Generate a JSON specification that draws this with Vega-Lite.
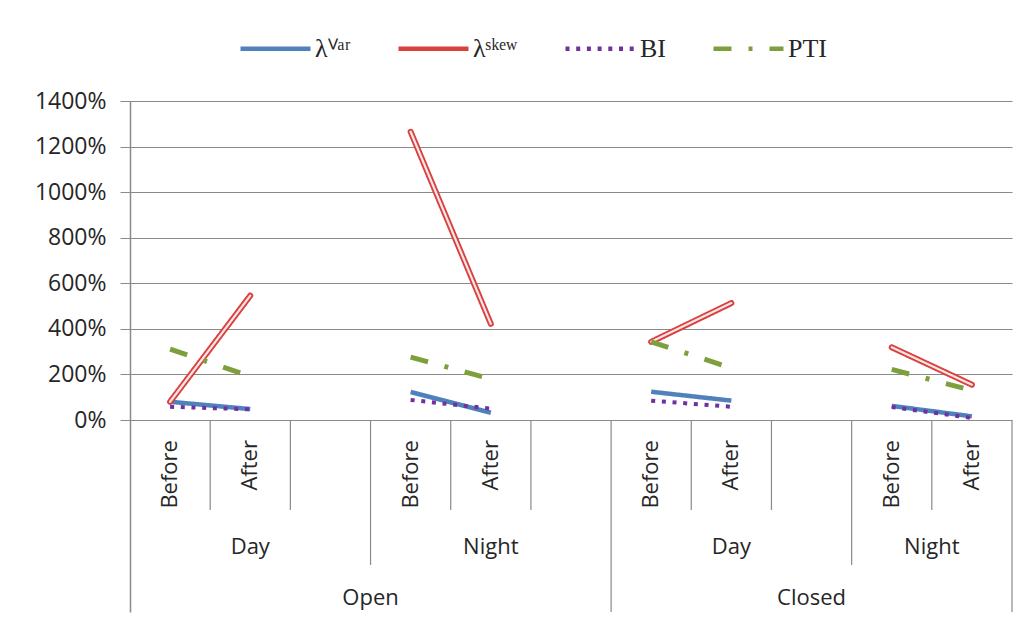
{
  "$schema": "https://vega.github.io/schema/vega-lite/v6.json",
  "width": 882,
  "height": 511,
  "autosize": "none",
  "padding": {"left": 130, "top": 101, "right": 19, "bottom": 10},
  "background": "white",
  "config": {
    "view": {"stroke": null},
    "font": "Open Sans",
    "text": {"font": "Open Sans", "fontSize": 22, "fill": "#262626"}
  },
  "datasets": {
    "main": [
      {"series": "λVar", "group": "Open Day", "phase": "Before", "cat": "Open Day Before", "value": 80},
      {"series": "λVar", "group": "Open Day", "phase": "After", "cat": "Open Day After", "value": 48},
      {"series": "λVar", "group": "Open Night", "phase": "Before", "cat": "Open Night Before", "value": 123},
      {"series": "λVar", "group": "Open Night", "phase": "After", "cat": "Open Night After", "value": 32},
      {"series": "λVar", "group": "Closed Day", "phase": "Before", "cat": "Closed Day Before", "value": 124},
      {"series": "λVar", "group": "Closed Day", "phase": "After", "cat": "Closed Day After", "value": 85},
      {"series": "λVar", "group": "Closed Night", "phase": "Before", "cat": "Closed Night Before", "value": 62},
      {"series": "λVar", "group": "Closed Night", "phase": "After", "cat": "Closed Night After", "value": 16},
      {"series": "λskew", "group": "Open Day", "phase": "Before", "cat": "Open Day Before", "value": 80},
      {"series": "λskew", "group": "Open Day", "phase": "After", "cat": "Open Day After", "value": 546},
      {"series": "λskew", "group": "Open Night", "phase": "Before", "cat": "Open Night Before", "value": 1265},
      {"series": "λskew", "group": "Open Night", "phase": "After", "cat": "Open Night After", "value": 422},
      {"series": "λskew", "group": "Closed Day", "phase": "Before", "cat": "Closed Day Before", "value": 343},
      {"series": "λskew", "group": "Closed Day", "phase": "After", "cat": "Closed Day After", "value": 513},
      {"series": "λskew", "group": "Closed Night", "phase": "Before", "cat": "Closed Night Before", "value": 319},
      {"series": "λskew", "group": "Closed Night", "phase": "After", "cat": "Closed Night After", "value": 155},
      {"series": "BI", "group": "Open Day", "phase": "Before", "cat": "Open Day Before", "value": 58},
      {"series": "BI", "group": "Open Day", "phase": "After", "cat": "Open Day After", "value": 47},
      {"series": "BI", "group": "Open Night", "phase": "Before", "cat": "Open Night Before", "value": 88},
      {"series": "BI", "group": "Open Night", "phase": "After", "cat": "Open Night After", "value": 50},
      {"series": "BI", "group": "Closed Day", "phase": "Before", "cat": "Closed Day Before", "value": 85},
      {"series": "BI", "group": "Closed Day", "phase": "After", "cat": "Closed Day After", "value": 58},
      {"series": "BI", "group": "Closed Night", "phase": "Before", "cat": "Closed Night Before", "value": 57},
      {"series": "BI", "group": "Closed Night", "phase": "After", "cat": "Closed Night After", "value": 9},
      {"series": "PTI", "group": "Open Day", "phase": "Before", "cat": "Open Day Before", "value": 311},
      {"series": "PTI", "group": "Open Day", "phase": "After", "cat": "Open Day After", "value": 192},
      {"series": "PTI", "group": "Open Night", "phase": "Before", "cat": "Open Night Before", "value": 276},
      {"series": "PTI", "group": "Open Night", "phase": "After", "cat": "Open Night After", "value": 180},
      {"series": "PTI", "group": "Closed Day", "phase": "Before", "cat": "Closed Day Before", "value": 343},
      {"series": "PTI", "group": "Closed Day", "phase": "After", "cat": "Closed Day After", "value": 228},
      {"series": "PTI", "group": "Closed Night", "phase": "Before", "cat": "Closed Night Before", "value": 222},
      {"series": "PTI", "group": "Closed Night", "phase": "After", "cat": "Closed Night After", "value": 130}
    ],
    "boundaries": [
      {"at": "Open Day After", "row": "phase"},
      {"at": "Open Day -", "row": "phase"},
      {"at": "Open Night Before", "row": "time"},
      {"at": "Open Night After", "row": "phase"},
      {"at": "Open Night -", "row": "phase"},
      {"at": "Closed Day Before", "row": "door"},
      {"at": "Closed Day After", "row": "phase"},
      {"at": "Closed Day -", "row": "phase"},
      {"at": "Closed Night Before", "row": "time"},
      {"at": "Closed Night After", "row": "phase"},
      {"at": "Closed Night After", "row": "end"}
    ],
    "groupLabels": [
      {"text": "Day", "row": "time", "at": "Open Day After", "edge": false},
      {"text": "Night", "row": "time", "at": "Open Night After", "edge": false},
      {"text": "Day", "row": "time", "at": "Closed Day After", "edge": false},
      {"text": "Night", "row": "time", "at": "Closed Night After", "edge": true},
      {"text": "Open", "row": "door", "at": "Open Night Before", "edge": true},
      {"text": "Closed", "row": "door", "at": "Closed Day -", "edge": false}
    ]
  },
  "encoding": {
    "x": {
      "field": "cat",
      "type": "nominal",
      "axis": null,
      "scale": {
        "type": "band",
        "paddingInner": 0,
        "paddingOuter": 0,
        "domain": ["Open Day Before", "Open Day After", "Open Day -", "Open Night Before", "Open Night After", "Open Night -", "Closed Day Before", "Closed Day After", "Closed Day -", "Closed Night Before", "Closed Night After"]
      }
    }
  },
  "layer": [
    {
      "data": {"name": "main"},
      "transform": [{"filter": "datum.series == 'λVar'"}],
      "mark": {"type": "text", "angle": 270, "align": "right", "baseline": "middle", "fontSize": 22},
      "encoding": {
        "y": {"datum": -88, "type": "quantitative"},
        "text": {"field": "phase"}
      }
    },
    {
      "data": {"name": "main"},
      "transform": [{"filter": "datum.series == 'λVar'"}],
      "mark": {"type": "line", "strokeWidth": 4.5, "strokeCap": "butt"},
      "encoding": {
        "y": {
          "field": "value",
          "type": "quantitative",
          "scale": {"domain": [-842.6, 1400], "nice": false, "zero": false},
          "axis": {
            "values": [0, 200, 400, 600, 800, 1000, 1200, 1400],
            "labelExpr": "datum.value + '%'",
            "title": null,
            "grid": true,
            "gridColor": "#8a8a8a",
            "gridWidth": 1,
            "domainColor": "#8a8a8a",
            "domainWidth": 1.5,
            "tickColor": "#8a8a8a",
            "tickSize": 10,
            "labelPadding": 14,
            "labelFont": "Open Sans",
            "labelFontSize": 23,
            "labelColor": "#262626"
          }
        },
        "detail": {"field": "group"},
        "color": {
          "field": "series",
          "type": "nominal",
          "scale": {"domain": ["λVar", "λskew", "BI", "PTI"], "range": ["#4f81bd", "#d9413f", "#7030a0", "#7ea03c"]},
          "legend": {
            "title": null,
            "orient": "none",
            "direction": "horizontal",
            "legendX": 108,
            "legendY": -90,
            "symbolType": "stroke",
            "symbolSize": 4900,
            "symbolStrokeWidth": 4.5,
            "labelFont": "Liberation Serif",
            "labelFontSize": 26,
            "labelColor": "#262626",
            "labelOffset": 2,
            "columnPadding": 38,
            "labelExpr": "datum.label == 'λVar' ? 'λⱽᵃʳ' : datum.label == 'λskew' ? 'λˢᵏᵉʷ' : datum.label"
          }
        },
        "strokeDash": {
          "field": "series",
          "type": "nominal",
          "scale": {"domain": ["λVar", "λskew", "BI", "PTI"], "range": [[1, 0], [1, 0], [4, 6.7], [18, 17, 4, 17]]}
        }
      }
    },
    {
      "data": {"name": "main"},
      "transform": [{"filter": "datum.series == 'λskew'"}],
      "mark": {"type": "line", "strokeWidth": 6, "strokeCap": "round"},
      "encoding": {
        "y": {"field": "value", "type": "quantitative"},
        "detail": {"field": "group"},
        "color": {"field": "series", "type": "nominal"},
        "strokeDash": {"field": "series", "type": "nominal"}
      }
    },
    {
      "data": {"name": "main"},
      "transform": [{"filter": "datum.series == 'λskew'"}],
      "mark": {"type": "line", "strokeWidth": 2.2, "strokeCap": "round", "color": "#fbe6e6"},
      "encoding": {
        "y": {"field": "value", "type": "quantitative"},
        "detail": {"field": "group"}
      }
    },
    {
      "data": {"name": "main"},
      "transform": [{"filter": "datum.series == 'BI'"}],
      "mark": {"type": "line", "strokeWidth": 4, "strokeCap": "butt"},
      "encoding": {
        "y": {"field": "value", "type": "quantitative"},
        "detail": {"field": "group"},
        "color": {"field": "series", "type": "nominal"},
        "strokeDash": {"field": "series", "type": "nominal"}
      }
    },
    {
      "data": {"name": "main"},
      "transform": [{"filter": "datum.series == 'PTI'"}],
      "mark": {"type": "line", "strokeWidth": 5, "strokeCap": "butt"},
      "encoding": {
        "y": {"field": "value", "type": "quantitative"},
        "detail": {"field": "group"},
        "color": {"field": "series", "type": "nominal"},
        "strokeDash": {"field": "series", "type": "nominal"}
      }
    },
    {
      "data": {"name": "boundaries"},
      "transform": [{"filter": "datum.row == 'phase'"}],
      "mark": {"type": "rule", "color": "#8a8a8a", "strokeWidth": 1.2},
      "encoding": {
        "x": {"field": "at", "type": "nominal", "bandPosition": 0},
        "y": {"datum": 0, "type": "quantitative"},
        "y2": {"datum": -395}
      }
    },
    {
      "data": {"name": "boundaries"},
      "transform": [{"filter": "datum.row == 'time'"}],
      "mark": {"type": "rule", "color": "#8a8a8a", "strokeWidth": 1.2},
      "encoding": {
        "x": {"field": "at", "type": "nominal", "bandPosition": 0},
        "y": {"datum": 0, "type": "quantitative"},
        "y2": {"datum": -636}
      }
    },
    {
      "data": {"name": "boundaries"},
      "transform": [{"filter": "datum.row == 'door'"}],
      "mark": {"type": "rule", "color": "#8a8a8a", "strokeWidth": 1.2},
      "encoding": {
        "x": {"field": "at", "type": "nominal", "bandPosition": 0},
        "y": {"datum": 0, "type": "quantitative"},
        "y2": {"datum": -842.6}
      }
    },
    {
      "data": {"name": "boundaries"},
      "transform": [{"filter": "datum.row == 'end'"}],
      "mark": {"type": "rule", "color": "#8a8a8a", "strokeWidth": 1.2},
      "encoding": {
        "x": {"field": "at", "type": "nominal", "bandPosition": 1},
        "y": {"datum": 0, "type": "quantitative"},
        "y2": {"datum": -842.6}
      }
    },
    {
      "data": {"name": "groupLabels"},
      "transform": [{"filter": "datum.row == 'time' && !datum.edge"}],
      "mark": {"type": "text", "baseline": "middle", "align": "center"},
      "encoding": {
        "x": {"field": "at", "type": "nominal", "bandPosition": 0.5},
        "y": {"datum": -557, "type": "quantitative"},
        "text": {"field": "text"}
      }
    },
    {
      "data": {"name": "groupLabels"},
      "transform": [{"filter": "datum.row == 'time' && datum.edge"}],
      "mark": {"type": "text", "baseline": "middle", "align": "center"},
      "encoding": {
        "x": {"field": "at", "type": "nominal", "bandPosition": 0},
        "y": {"datum": -557, "type": "quantitative"},
        "text": {"field": "text"}
      }
    },
    {
      "data": {"name": "groupLabels"},
      "transform": [{"filter": "datum.row == 'door' && !datum.edge"}],
      "mark": {"type": "text", "baseline": "middle", "align": "center"},
      "encoding": {
        "x": {"field": "at", "type": "nominal", "bandPosition": 0.5},
        "y": {"datum": -781, "type": "quantitative"},
        "text": {"field": "text"}
      }
    },
    {
      "data": {"name": "groupLabels"},
      "transform": [{"filter": "datum.row == 'door' && datum.edge"}],
      "mark": {"type": "text", "baseline": "middle", "align": "center"},
      "encoding": {
        "x": {"field": "at", "type": "nominal", "bandPosition": 0},
        "y": {"datum": -781, "type": "quantitative"},
        "text": {"field": "text"}
      }
    }
  ]
}
